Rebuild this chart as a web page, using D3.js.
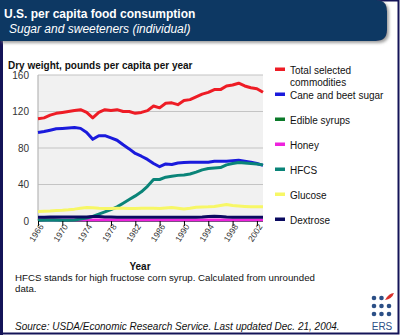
<!DOCTYPE html>
<html>
<head>
<meta charset="utf-8">
<script src="https://cdn.jsdelivr.net/npm/d3@7"></script>
<style>
  body { margin: 0; background: #fff; }
  svg { display: block; font-family: Arial, "Liberation Sans", sans-serif; }
</style>
</head>
<body>
<div class="chart-area"></div>
<script>
// years 1966-2003
const years = d3.range(1966, 2004);
const total = [112, 113, 116, 118, 119, 120, 121, 122, 119, 113, 119, 122, 121, 122, 120, 120, 118, 119, 121, 126,
  124, 129, 129.5, 127.5, 132, 133, 136, 139, 141, 144, 144, 148, 149, 151, 148, 146, 145, 141];
const caneBeet = [97, 98, 99.5, 101, 101.5, 102, 102.5, 101.5, 97, 89.5, 93.5, 93.5, 91, 88.5, 83.5, 79, 74, 71, 67.5, 63,
  59.5, 62.5, 62, 63.5, 64, 64.5, 64.5, 64.5, 64.5, 65.5, 65.5, 65.5, 66, 66.5, 65.5, 64.5, 63, 61];
const edibleSyrups = [0.6, 1.4, 2.0, 1.5, 0.6, 0.5, 0.5, 0.5, 0.5, 0.5, 0.5, 0.5, 0.5, 0.5, 0.5, 0.5, 0.5, 0.5, 0.5, 0.5,
  0.5, 0.5, 0.5, 0.5, 0.5, 0.5, 0.5, 0.5, 0.5, 0.5, 0.5, 0.5, 0.5, 0.5, 0.5, 0.5, 0.5, 0.5];
const honey = [1.0, 1.0, 1.0, 1.0, 1.0, 1.0, 1.0, 1.0, 1.0, 1.0, 1.0, 1.0, 1.0, 1.0, 1.0, 1.0, 1.0, 1.0, 1.1, 1.1,
  1.1, 1.1, 1.1, 1.1, 1.1, 1.1, 1.1, 1.1, 1.1, 1.1, 1.1, 1.1, 1.1, 1.1, 1.1, 1.1, 1.1, 1.1];
const hfcs = [0.7, 0.8, 0.8, 0.9, 0.7, 0.8, 1.2, 2.1, 3.3, 5.0, 7.5, 10, 12.5, 15.5, 19.5, 23.5, 27.5, 32, 38, 45.5,
  45.5, 48, 49, 50, 50.5, 51.5, 53.5, 56, 57.5, 58, 58.5, 61.5, 63, 64, 63.5, 63, 62.5, 61.5];
const glucose = [10.5, 10.7, 11, 11.5, 11.8, 12.3, 13, 14, 14.7, 14.5, 14, 13.8, 13.8, 14, 14, 13.8, 13.8, 14, 14, 14,
  13.8, 14.3, 14.8, 14, 13.2, 14, 15, 15.3, 15.5, 16, 17, 18, 17, 16.5, 16, 15.5, 15.5, 15.5];
const dextrose = [4.0, 4.2, 4.3, 4.3, 4.3, 4.3, 4.3, 4.3, 4.5, 4.8, 4.8, 4.5, 4.3, 4.2, 4.2, 4.2, 4.2, 4.2, 4.2, 4.2,
  4.2, 4.2, 4.2, 4.2, 4.2, 4.2, 4.2, 4.3, 4.8, 5.2, 5.0, 4.5, 4.2, 4.2, 4.2, 4.2, 4.2, 4.2];

const seriesNames = ["Total selected commodities", "Cane and beet sugar", "Edible syrups", "Honey", "HFCS", "Glucose", "Dextrose"];
const seriesColors = ["#ee1c25", "#1a1adc", "#0b7a2a", "#ee22dd", "#0a8478", "#f7f766", "#0a0a60"];
const seriesValues = [total, caneBeet, edibleSyrups, honey, hfcs, glucose, dextrose];
const yTicks = [0, 40, 80, 120, 160];
const xTicks = d3.range(1966, 2004, 4);

const width = 400, height = 335;
const svg = d3.select(".chart-area").append("svg")
  .attr("width", width).attr("height", height);

// frame
svg.append("rect").attr("x", 1).attr("y", 0.5).attr("width", 397.5).attr("height", 333)
  .attr("fill", "#fff").attr("stroke", "#141458").attr("stroke-width", 2);
svg.append("rect").attr("x", 0).attr("y", 0).attr("width", 3).attr("height", 335).attr("fill", "#141458");

// header
const defs = svg.append("defs");
const filt = defs.append("filter").attr("id", "sh").attr("x", "-5%").attr("y", "-20%").attr("width", "115%").attr("height", "160%");
filt.append("feDropShadow").attr("dx", 2).attr("dy", 2).attr("stdDeviation", 1.5).attr("flood-color", "#888").attr("flood-opacity", 0.8);
svg.append("path")
  .attr("d", "M0,0 H376 Q387,0 387,11 V30 Q387,41 376,41 H0 Z")
  .attr("fill", "#0c3764").attr("filter", "url(#sh)");
svg.append("text").attr("x", 4).attr("y", 18).attr("fill", "#fff")
  .attr("font-size", 12).attr("font-weight", "bold").text("U.S. per capita food consumption");
svg.append("text").attr("x", 9).attr("y", 33).attr("fill", "#fff")
  .attr("font-size", 12).attr("font-style", "italic").text("Sugar and sweeteners (individual)");

svg.append("text").attr("x", 8).attr("y", 69).attr("fill", "#111")
  .attr("font-size", 10).attr("font-weight", "bold").text("Dry weight, pounds per capita per year");

// plot
const pLeft = 38, pRight = 263, pTop = 75, pBottom = 221;
const x = d3.scaleLinear().domain([1966, 2003]).range([pLeft, pRight]);
const y = d3.scaleLinear().domain([0, 160]).range([pBottom, pTop]);

svg.append("rect").attr("x", pLeft).attr("y", pTop).attr("width", pRight - pLeft).attr("height", pBottom - pTop)
  .attr("fill", "#f1f1f1");

svg.append("g").selectAll("line").data(yTicks).join("line")
  .attr("x1", pLeft).attr("x2", pRight)
  .attr("y1", d => y(d)).attr("y2", d => y(d))
  .attr("stroke", "#c4c4c4").attr("stroke-width", 1.2);

svg.append("line").attr("x1", pLeft).attr("x2", pLeft).attr("y1", pTop).attr("y2", pBottom)
  .attr("stroke", "#b8b8b8").attr("stroke-width", 1.2);

svg.append("g").selectAll("text").data(yTicks).join("text")
  .attr("x", 29).attr("y", d => y(d) + 3.5)
  .attr("text-anchor", "end").attr("font-size", 10).attr("fill", "#333")
  .text(d => d);

// lines
const line = d3.line().x((d, i) => x(years[i])).y(d => y(d));
seriesValues.forEach((vals, k) => {
  svg.append("path").datum(vals)
    .attr("d", line)
    .attr("fill", "none")
    .attr("stroke", seriesColors[k])
    .attr("stroke-width", 3)
    .attr("stroke-linejoin", "round");
});

// x axis
const xAxis = svg.append("g").attr("transform", `translate(0,${pBottom})`)
  .call(d3.axisBottom(x).tickValues(xTicks).tickFormat(d3.format("d")).tickSize(5));
xAxis.select(".domain").remove();
xAxis.selectAll("line").attr("stroke", "#000");
xAxis.selectAll("text")
  .attr("font-size", 8.5).attr("fill", "#333")
  .attr("font-family", "Arial, 'Liberation Sans', sans-serif")
  .attr("text-anchor", "end")
  .attr("x", 0).attr("y", 0).attr("dy", "0.35em")
  .attr("transform", "translate(3,4) rotate(-57)");

svg.append("text").attr("x", 140).attr("y", 269.5).attr("text-anchor", "middle")
  .attr("font-size", 10).attr("font-weight", "bold").attr("fill", "#111").text("Year");

// legend
const legendY = [70, 95, 120, 145, 170, 195, 220];
const lg = svg.append("g");
seriesNames.forEach((name, k) => {
  lg.append("rect").attr("x", 275).attr("y", legendY[k] - 2.5).attr("width", 10).attr("height", 3.5)
    .attr("fill", seriesColors[k]);
  const t = lg.append("text").attr("x", 290).attr("y", legendY[k] + 4)
    .attr("font-size", 10).attr("fill", "#111");
  if (k === 0) {
    t.append("tspan").attr("x", 290).text("Total selected");
    t.append("tspan").attr("x", 290).attr("dy", 11.5).text("commodities");
  } else {
    t.text(name);
  }
});

// notes
svg.append("text").attr("x", 15).attr("y", 281).attr("font-size", 9.7).attr("fill", "#111")
  .text("HFCS stands for high fructose corn syrup. Calculated from unrounded");
svg.append("text").attr("x", 15).attr("y", 292).attr("font-size", 9.7).attr("fill", "#111")
  .text("data.");
svg.append("text").attr("x", 15).attr("y", 330).attr("font-size", 10).attr("font-style", "italic").attr("fill", "#111")
  .text("Source: USDA/Economic Research Service. Last updated Dec. 21, 2004.");

// ERS logo
const logo = svg.append("g");
const dots = [];
for (let r = 0; r < 3; r++) for (let c = 0; c < 3; c++) if (!(r === 0 && c === 2)) dots.push([c, r]);
logo.selectAll("circle").data(dots).join("circle")
  .attr("cx", d => 374 + d[0] * 7.5).attr("cy", d => 298 + d[1] * 8).attr("r", 2.3)
  .attr("fill", "#2b4f86");
logo.append("path").attr("d", "M385,300 Q389,293 394,293 Q392,299 385,300 Z").attr("fill", "#d9302a");
logo.append("text").attr("x", 382).attr("y", 330).attr("text-anchor", "middle")
  .attr("font-size", 10).attr("fill", "#2b4f86").text("ERS");
</script>
</body>
</html>
